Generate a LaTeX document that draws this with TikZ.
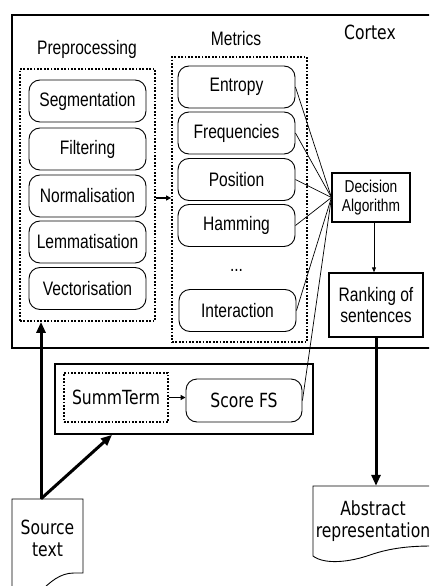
\documentclass[tikz,border=0pt]{standalone}
\usepackage{fontspec}
\setmainfont{Liberation Sans}[FakeStretch=0.80]
\newfontfamily\djfont{DejaVu Sans}[FakeStretch=0.80]
\usetikzlibrary{arrows.meta,calc}
\newcommand{\fmain}{\fontsize{19.5}{21}\selectfont}
\newcommand{\fsmall}{\fontsize{17.2}{19}\selectfont}
\newcommand{\fdj}{\djfont\fontsize{19.5}{22}\selectfont}
\begin{document}
\begin{tikzpicture}[x=1pt,y=-1pt,
 rbox/.style={draw, rounded corners=11pt, line width=0.9pt, minimum width=117pt, minimum height=42pt, inner sep=0pt, font=\fmain},
 dotbox/.style={draw, line width=1.8pt, dash pattern=on 1.8pt off 1.6pt, inner sep=0pt},
 lbl/.style={inner sep=0pt, font=\fmain},
 bigarrow/.style={line width=3pt, -{Triangle[length=11pt,width=9pt]}},
 thinline/.style={line width=0.7pt},
 smallarrow/.style={line width=1.8pt, -{Triangle[length=5pt,width=5pt]}},
]
\useasboundingbox (0,0) rectangle (429,586);
\clip (0,0) rectangle (429,586);
% Cortex frame
\draw[line width=1.6pt] (12,15) rectangle (445,348);
\node[font=\fdj, inner sep=0pt] (cortex) at (370,32) {Cortex};
% Preprocessing
\node[lbl] (prelbl) at (87,49) {Preprocessing};
\node[dotbox, minimum width=135pt, minimum height=252pt] (pre) at (87.5,195) {};
\node[rbox] (seg) at (87.5,101) {Segmentation};
\node[rbox] (fil) at (87.5,149) {Filtering};
\node[rbox] (nor) at (87.5,196) {Normalisation};
\node[rbox] (lem) at (87.5,242) {Lemmatisation};
\node[rbox] (vec) at (87.5,288.5) {Vectorisation};
% Metrics
\node[lbl] (metlbl) at (236,39) {Metrics};
\node[dotbox, minimum width=135pt, minimum height=285pt] (met) at (239.5,199.5) {};
\node[rbox] (ent) at (236.5,87) {Entropy};
\node[rbox] (freq) at (236.5,133) {Frequencies};
\node[rbox] (pos) at (236.5,179.5) {Position};
\node[rbox] (ham) at (236.5,225.5) {Hamming};
\node[lbl] (dots) at (236.5,270) {...};
\node[rbox] (inter) at (237.5,310.5) {Interaction};
% Decision and ranking
\node[draw, line width=1.1pt, minimum width=78pt, minimum height=49pt, align=center, font=\fsmall, inner sep=0pt] (dec) at (371,197.5) {Decision\\Algorithm};
\node[draw, line width=1.4pt, minimum width=94pt, minimum height=64pt, align=center, font=\fmain, inner sep=0pt] (rank) at (376,305) {Ranking of\\sentences};
% SummTerm container
\node[draw, line width=1.6pt, minimum width=258pt, minimum height=70pt] (cont) at (184,399) {};
\node[dotbox, minimum width=104pt, minimum height=49pt, font=\fdj] (st) at (116,397.5) {SummTerm};
\node[draw, rounded corners=11pt, line width=0.9pt, minimum width=116pt, minimum height=43pt, inner sep=0pt, font=\fdj] (sf) at (244,400.5) {Score FS};
% Source text document
\node[align=center, font=\fdj, minimum width=71pt, minimum height=78pt, inner sep=0pt] (src) at (47.5,538) {Source\\text};
\draw[line width=0.9pt] (12,592) -- (12,499) -- (83,499) -- (83,573) -- (74,573) .. controls (60,573) and (50,582) .. (40,592);
% Abstract representation document
\node[align=center, font=\fdj, minimum width=120pt, minimum height=70pt, inner sep=0pt] (abs) at (373,521) {Abstract\\representation};
\draw[line width=0.9pt] (440,486) -- (313,486) -- (313,556) .. controls (325,565) and (350,562) .. (370,555) .. controls (390,548) and (410,546) .. (432,546);
% connectors
\draw[bigarrow] ([xshift=-6.5pt]src.north) -- ([xshift=-6.5pt]src.north |- pre.south);
\draw[bigarrow] ([xshift=-6.5pt]src.north) -- ([xshift=-72pt]cont.south);
\draw[bigarrow] (rank.south) -- (rank.south |- abs.north);
\draw[smallarrow] ([yshift=-3pt]pre.east) -- ([yshift=-3pt]pre.east -| met.west);
\draw[smallarrow] (st.east) -- (st.east -| sf.west);
\draw[line width=0.9pt, -{Triangle[length=5pt,width=4pt]}] ([xshift=3pt]dec.south) -- ([xshift=3pt]dec.south |- rank.north);
\foreach \n in {ent,freq,pos,ham,inter,sf} \draw[thinline] (\n.east) -- (dec.west);
\end{tikzpicture}
\end{document}
